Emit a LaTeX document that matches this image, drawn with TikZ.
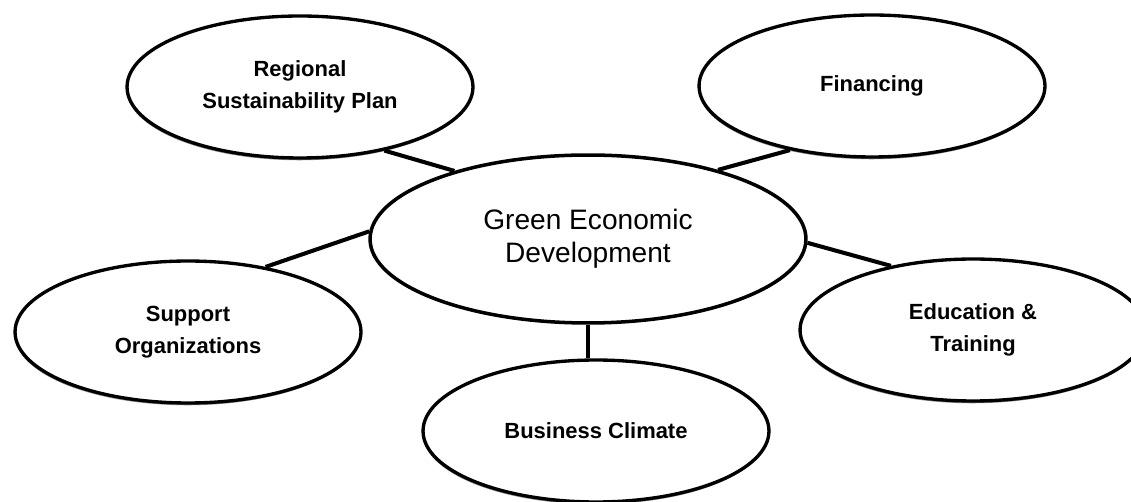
\documentclass[tikz,border=0pt]{standalone}
\usepackage{fontspec}
\setmainfont{Liberation Sans}
\usetikzlibrary{shapes.geometric,shadows}

\begin{document}
\begin{tikzpicture}[x=0.02cm,y=-0.02cm,
  burbuja/.style={ellipse,draw,line width=1.9pt,fill=white,minimum width=6.92cm,minimum height=2.84cm,align=center,inner sep=0pt,font=\fontsize{12.5}{18}\selectfont\bfseries,drop shadow={shadow xshift=-0.3pt,shadow yshift=-1.3pt,fill=black,opacity=0.45}},
  centro/.style={ellipse,draw,line width=2pt,fill=white,minimum width=8.72cm,minimum height=3.36cm,align=center,inner sep=0pt,font=\fontsize{16}{19}\selectfont},
  enlace/.style={line width=2.3pt}]
%marco de la figura
\useasboundingbox (0,0) rectangle (1131,502);

%ovalo del centro
\node[centro] (verde) at (588,239) {Green Economic\\Development};

%ovalos de alrededor
\node[burbuja] (plan) at (300,87) {Regional\\Sustainability Plan};
\node[burbuja] (dinero) at (872,86) {Financing};
\node[burbuja] (apoyo) at (188,332) {Support\\Organizations};
\node[burbuja] (educa) at (973,330) {Education \&\\Training};
\node[burbuja] (clima) at (596,431) {Business Climate};

%lineas que unen cada ovalo con el centro
\draw[enlace] (plan.-37) -- (verde.153);
\draw[enlace] (dinero.218) -- (verde.28);
\draw[enlace] (apoyo.40) -- (verde.178);
\draw[enlace] (educa.142) -- (verde.-1);
\draw[enlace] (verde.south) -- (verde.south |- clima.north);
\end{tikzpicture}
\end{document}
